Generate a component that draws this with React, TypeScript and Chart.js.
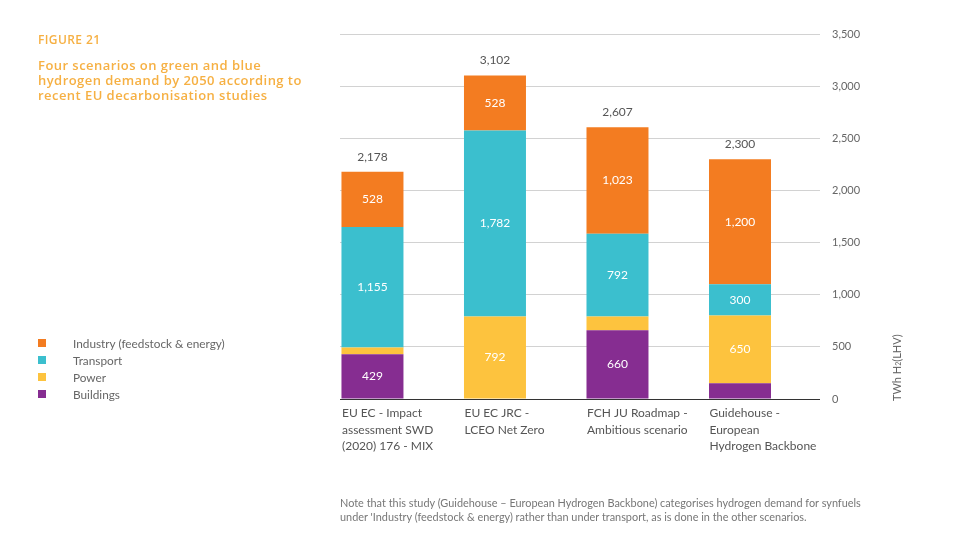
import React, { useEffect, useRef } from "react";
import { Chart, registerables } from "chart.js";

Chart.register(...registerables);

const categories: string[][] = [
  ["EU EC - Impact", "assessment SWD", "(2020) 176 - MIX"],
  ["EU EC JRC -", "LCEO Net Zero"],
  ["FCH JU Roadmap -", "Ambitious scenario"],
  ["Guidehouse -", "European", "Hydrogen Backbone"],
];
const buildings = [429, 0, 660, 150];
const power = [66, 792, 132, 650];
const transport = [1155, 1782, 792, 300];
const industry = [528, 528, 1023, 1200];
const totals = [2178, 3102, 2607, 2300];
const yMin = 0;
const yMax = 3500;
const yStep = 500;

const seriesNames = ["Industry (feedstock & energy)", "Transport", "Power", "Buildings"];
const seriesColors = ["#F37C21", "#3BBFCE", "#FDC33E", "#862D91"];

const fmt = (v: number) => v.toLocaleString("en-US");

const labelsPlugin = {
  id: "valueLabels",
  afterDatasetsDraw(chart: any) {
    const ctx = chart.ctx;
    ctx.save();
    ctx.textAlign = "center";
    ctx.textBaseline = "middle";
    ctx.font = "12px Lato";
    ctx.fillStyle = "#ffffff";
    chart.data.datasets.forEach((ds: any, di: number) => {
      const meta = chart.getDatasetMeta(di);
      meta.data.forEach((el: any, i: number) => {
        const v = ds.data[i].y;
        if (v >= 200) {
          ctx.fillText(fmt(v), el.x, (el.y + el.base) / 2);
        }
      });
    });
    const topIdx = chart.data.datasets.length - 1;
    const topMeta = chart.getDatasetMeta(topIdx);
    ctx.fillStyle = "#555555";
    topMeta.data.forEach((el: any, i: number) => {
      ctx.fillText(fmt(totals[i]), el.x, el.y - 15);
    });
    ctx.restore();
  },
};

function ChartCanvas() {
  const ref = useRef<HTMLCanvasElement | null>(null);
  useEffect(() => {
    if (!ref.current) return;
    const mk = (name: string, data: number[], color: string) => ({
      label: name,
      data: data.map((v, i) => ({ x: i, y: v })),
      backgroundColor: color,
      borderWidth: 0,
      stack: "s",
      barPercentage: 0.506,
      categoryPercentage: 1,
    });
    const chart = new Chart(ref.current, {
      type: "bar",
      data: {
        datasets: [
          mk(seriesNames[3], buildings, seriesColors[3]),
          mk(seriesNames[2], power, seriesColors[2]),
          mk(seriesNames[1], transport, seriesColors[1]),
          mk(seriesNames[0], industry, seriesColors[0]),
        ],
      },
      options: {
        responsive: false,
        animation: false,
        devicePixelRatio: 1,
        layout: { padding: { left: 340, right: 83, top: 34, bottom: 85 } },
        plugins: { legend: { display: false }, tooltip: { enabled: false } },
        scales: {
          x: {
            type: "linear",
            offset: false,
            min: -0.265,
            max: 3.653,
            grid: { display: false, drawTicks: false },
            border: { display: false },
            afterBuildTicks: (scale: any) => {
              scale.ticks = categories.map((_, i) => ({ value: i }));
            },
            afterFit: (scale: any) => {
              scale.height = 60;
            },
            ticks: {
              autoSkip: false,
              maxRotation: 0,
              align: "start",
              labelOffset: -30.5,
              padding: 6,
              color: "#555",
              font: { family: "Lato", size: 12, lineHeight: 1.38 },
              callback: (v: any) => categories[Math.round(Number(v))] ?? "",
            },
          },
          y: {
            position: "right",
            stacked: true,
            min: yMin,
            max: yMax,
            border: { display: false },
            grid: {
              drawTicks: false,
              color: (c: any) => (c.tick && c.tick.value === 0 ? "#333333" : "#d2d2d2"),
              lineWidth: 1,
            },
            afterFit: (scale: any) => {
              scale.width = 50;
            },
            ticks: {
              stepSize: yStep,
              padding: 12,
              color: "#666",
              font: { family: "Lato", size: 11 },
              callback: (v: any) => fmt(Number(v)),
            },
          },
        },
      } as any,
      plugins: [labelsPlugin],
    });
    return () => chart.destroy();
  }, []);
  return (
    <canvas
      ref={ref}
      width={953}
      height={544}
      style={{ position: "absolute", left: 0, top: 0, width: 953, height: 544 }}
    />
  );
}

export default function App() {
  const orange = "#F6B043";
  return (
    <div style={{ position: "fixed", left: 0, top: 0, width: 953, height: 544, background: "#fff", overflow: "hidden" }}>
      <ChartCanvas />
      <div
        style={{
          position: "absolute",
          left: 38,
          top: 32,
          fontFamily: "Open Sans",
          fontWeight: 600,
          fontSize: 12,
          letterSpacing: 0.4,
          color: orange,
          lineHeight: "16px",
        }}
      >
        FIGURE 21
      </div>
      <div
        style={{
          position: "absolute",
          left: 38,
          top: 58,
          width: 320,
          fontFamily: "Open Sans",
          fontWeight: 600,
          fontSize: 13,
          letterSpacing: 0.45,
          color: orange,
          lineHeight: "15px",
        }}
      >
        Four scenarios on green and blue
        <br />
        hydrogen demand by 2050 according to
        <br />
        recent EU decarbonisation studies
      </div>
      {seriesNames.map((n, i) => (
        <div
          key={n}
          style={{
            position: "absolute",
            left: 38,
            top: 335 + i * 17,
            height: 16,
            display: "flex",
            alignItems: "center",
            fontFamily: "Lato",
            fontSize: 11.8,
            color: "#666",
          }}
        >
          <span style={{ display: "inline-block", width: 8, height: 8, background: seriesColors[i], marginRight: 27 }} />
          {n}
        </div>
      ))}
      <div
        style={{
          position: "absolute",
          left: 890,
          top: 401,
          transform: "rotate(-90deg)",
          transformOrigin: "0 0",
          whiteSpace: "nowrap",
          fontFamily: "Lato",
          fontSize: 11,
          lineHeight: "14px",
          color: "#666",
        }}
      >
        TWh H<span style={{ fontSize: 7 }}>2</span>(LHV)
      </div>
      <div
        style={{
          position: "absolute",
          left: 340,
          top: 496,
          fontFamily: "Lato",
          fontSize: 10.9,
          lineHeight: "14px",
          color: "#777",
          whiteSpace: "nowrap",
        }}
      >
        Note that this study (Guidehouse – European Hydrogen Backbone) categorises hydrogen demand for synfuels
        <br />
        under 'Industry (feedstock &amp; energy) rather than under transport, as is done in the other scenarios.
      </div>
    </div>
  );
}
